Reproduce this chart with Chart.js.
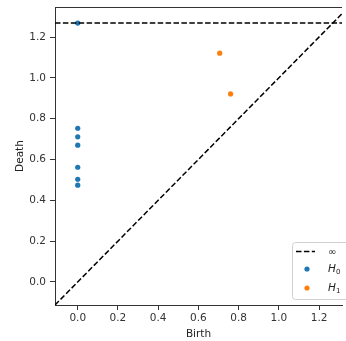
<!DOCTYPE html>
<html>
<head>
<meta charset="utf-8">
<script src="https://cdn.jsdelivr.net/npm/chart.js@4"></script>
<style>
  html, body { margin: 0; padding: 0; background: #fff; overflow: hidden; }
  #wrap { width: 346px; height: 341px; }
</style>
</head>
<body>
<div id="wrap"><canvas id="pd" width="346" height="341"></canvas></div>
<script>
// persistence diagram data
const h0Birth = [0, 0, 0, 0, 0, 0, 0];
const h0Death = [1.268, 0.753, 0.711, 0.670, 0.562, 0.503, 0.474];
const h1Birth = [0.706, 0.760];
const h1Death = [1.121, 0.921];
const infValue = 1.268;
const xTicks = [0, 0.2, 0.4, 0.6, 0.8, 1.0, 1.2];
const yTicks = [0, 0.2, 0.4, 0.6, 0.8, 1.0, 1.2];
const axisMin = -0.113;
const xMax = 1.314;
const yMax = 1.347;

const toPoints = (xs, ys) => xs.map((x, i) => ({ x: x, y: ys[i] }));

// top spine + custom legend (mathtext-like labels)
const framePlugin = {
  id: 'framePlugin',
  afterDraw(chart) {
    const ctx = chart.ctx;
    const a = chart.chartArea;
    ctx.save();
    ctx.strokeStyle = '#333';
    ctx.lineWidth = 1;
    ctx.beginPath();
    ctx.moveTo(a.left, a.top + 0.5);
    ctx.lineTo(a.right, a.top + 0.5);
    ctx.stroke();

    // legend box
    const bx = 292, by = 242, bw = 70, bh = 57;
    ctx.fillStyle = 'rgba(255,255,255,0.85)';
    ctx.strokeStyle = '#d0d0d0';
    ctx.beginPath();
    ctx.roundRect(bx + 0.5, by + 0.5, bw, bh, 3);
    ctx.fill();
    ctx.stroke();

    ctx.strokeStyle = '#000';
    ctx.lineWidth = 1.5;
    ctx.setLineDash([5.5, 2.4]);
    ctx.beginPath();
    ctx.moveTo(296, 251.5);
    ctx.lineTo(315, 251.5);
    ctx.stroke();
    ctx.setLineDash([]);

    ctx.fillStyle = '#1f77b4';
    ctx.beginPath();
    ctx.arc(307, 269, 2.6, 0, Math.PI * 2);
    ctx.fill();
    ctx.fillStyle = '#ff7f0e';
    ctx.beginPath();
    ctx.arc(307, 288, 2.6, 0, Math.PI * 2);
    ctx.fill();

    ctx.fillStyle = '#222';
    ctx.textBaseline = 'middle';
    ctx.font = '10px "DejaVu Sans"';
    ctx.fillText('\u221e', 328, 252);
    ctx.font = 'italic 10.5px "DejaVu Sans"';
    ctx.fillText('H', 328, 269);
    ctx.fillText('H', 328, 288);
    ctx.font = '7px "DejaVu Sans"';
    ctx.fillText('0', 336, 272);
    ctx.fillText('1', 336, 291);
    ctx.restore();
  }
};

const ctx = document.getElementById('pd').getContext('2d');

new Chart(ctx, {
  type: 'scatter',
  data: {
    datasets: [
      {
        label: 'diag',
        type: 'line',
        data: [{ x: axisMin, y: axisMin }, { x: yMax, y: yMax }],
        borderColor: '#000',
        borderWidth: 1.5,
        borderDash: [5.5, 2.4],
        pointRadius: 0,
        fill: false
      },
      {
        label: 'inf',
        type: 'line',
        data: [{ x: axisMin, y: infValue }, { x: xMax, y: infValue }],
        borderColor: '#000',
        borderWidth: 1.5,
        borderDash: [5.5, 2.4],
        pointRadius: 0,
        fill: false
      },
      {
        label: 'H0',
        data: toPoints(h0Birth, h0Death),
        backgroundColor: '#1f77b4',
        borderWidth: 0,
        pointRadius: 2.6
      },
      {
        label: 'H1',
        data: toPoints(h1Birth, h1Death),
        backgroundColor: '#ff7f0e',
        borderWidth: 0,
        pointRadius: 2.6
      }
    ]
  },
  options: {
    responsive: false,
    animation: false,
    layout: { padding: { top: 7, right: 0, left: 0, bottom: 0 } },
    plugins: {
      legend: { display: false },
      tooltip: { enabled: false }
    },
    scales: {
      x: {
        type: 'linear',
        min: axisMin,
        max: xMax,
        afterBuildTicks(scale) { scale.ticks = xTicks.map(v => ({ value: v })); },
        afterFit(scale) {
          scale.height = 36;
          scale.paddingLeft = 0;
          scale.paddingRight = 0;
        },
        grid: { drawOnChartArea: false, tickLength: 5, color: '#333' },
        border: { color: '#333', width: 1 },
        ticks: {
          color: '#333',
          font: { family: 'DejaVu Sans', size: 10.5 },
          padding: 2,
          maxRotation: 0,
          callback: v => v.toFixed(1)
        },
        title: {
          display: true,
          text: 'Birth',
          color: '#222',
          font: { family: 'DejaVu Sans', size: 10.5 },
          padding: { top: 1, bottom: 0 }
        }
      },
      y: {
        type: 'linear',
        min: axisMin,
        max: yMax,
        afterBuildTicks(scale) { scale.ticks = yTicks.map(v => ({ value: v })); },
        afterFit(scale) {
          scale.width = 55;
          scale.paddingTop = 0;
          scale.paddingBottom = 0;
        },
        grid: { drawOnChartArea: false, tickLength: 5, color: '#333' },
        border: { color: '#333', width: 1 },
        ticks: {
          color: '#333',
          font: { family: 'DejaVu Sans', size: 10.5 },
          padding: 4,
          callback: v => v.toFixed(1)
        },
        title: {
          display: true,
          text: 'Death',
          color: '#222',
          font: { family: 'DejaVu Sans', size: 10.5 },
          padding: { top: 14, bottom: 0 }
        }
      }
    }
  },
  plugins: [framePlugin]
});
</script>
</body>
</html>
